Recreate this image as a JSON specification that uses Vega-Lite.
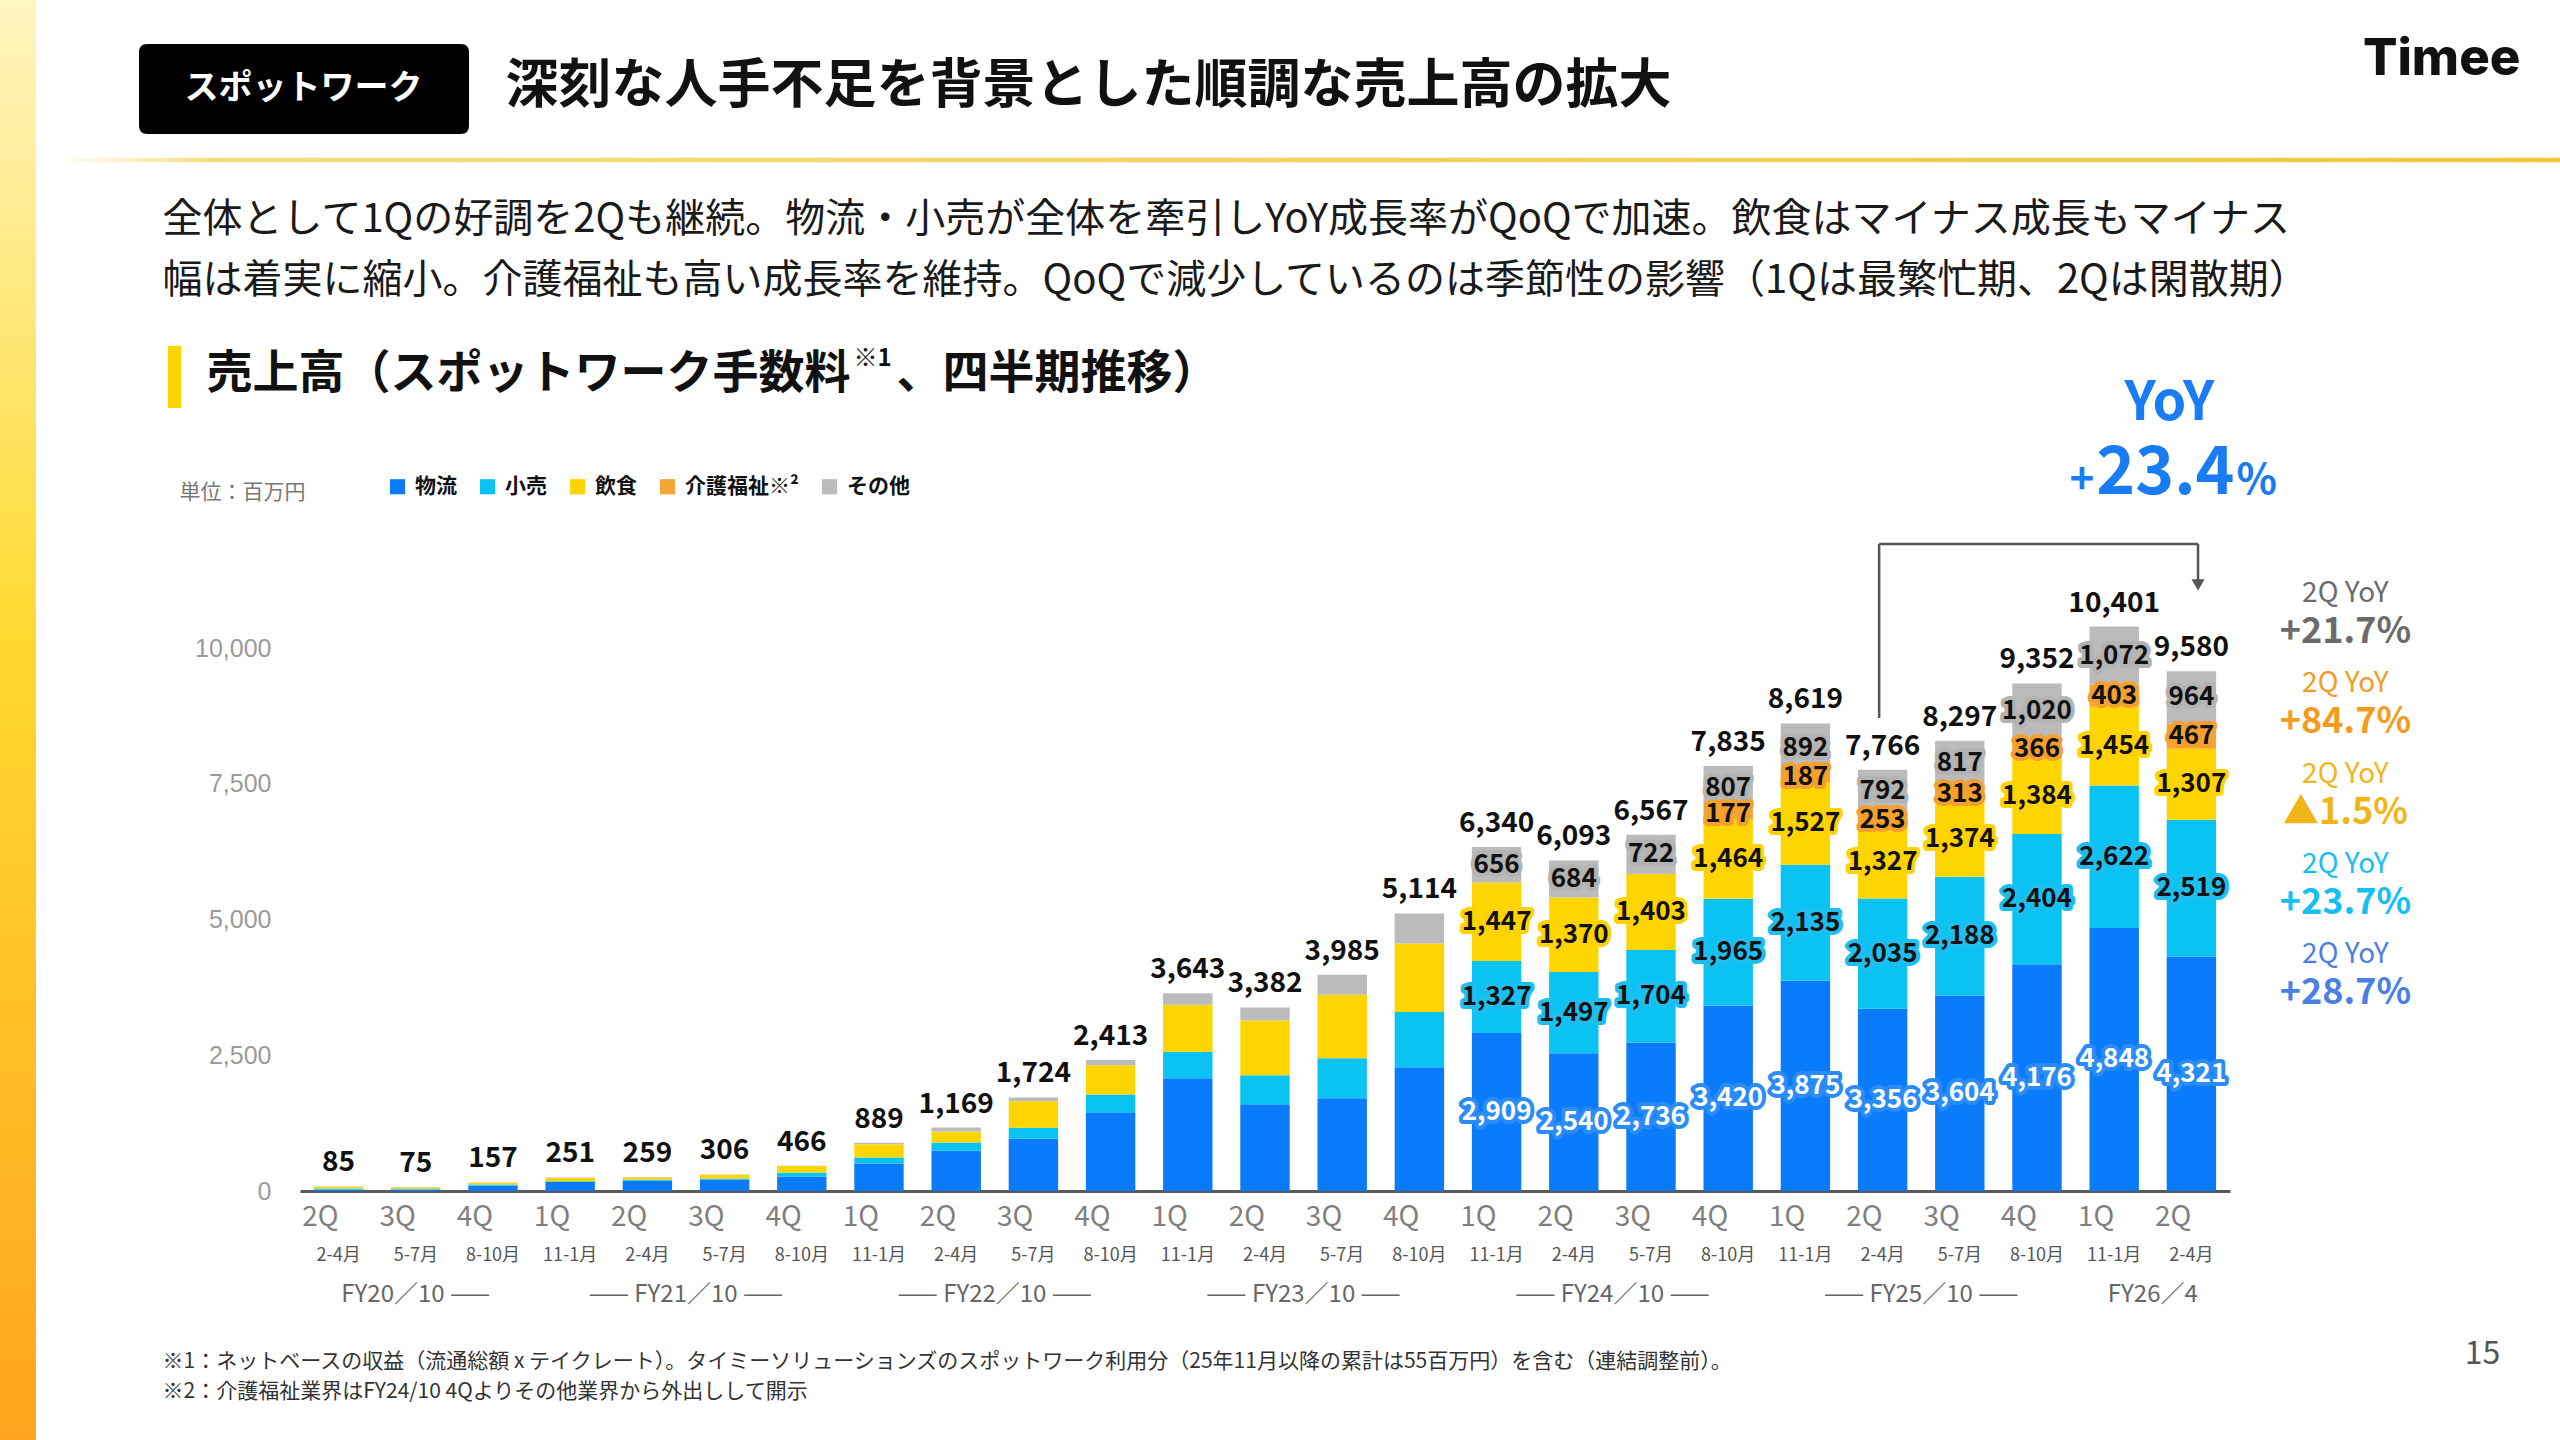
{
  "$schema": "https://vega.github.io/schema/vega-lite/v6.json",
  "width": 1930,
  "height": 597,
  "autosize": {"type": "none"},
  "padding": {"left": 300, "top": 594, "right": 330, "bottom": 249},
  "background": "white",
  "config": {"view": {"stroke": null}, "font": "Noto Sans CJK JP"},
  "datasets": {
    "sales": [
      {"q": "2Q FY20", "m": "2-4月", "物流": 25, "小売": 20, "飲食": 35, "介護福祉": 0, "その他": 5, "total": 85},
      {"q": "3Q FY20", "m": "5-7月", "物流": 25, "小売": 15, "飲食": 30, "介護福祉": 0, "その他": 5, "total": 75},
      {"q": "4Q FY20", "m": "8-10月", "物流": 95, "小売": 25, "飲食": 32, "介護福祉": 0, "その他": 5, "total": 157},
      {"q": "1Q FY21", "m": "11-1月", "物流": 165, "小売": 15, "飲食": 65, "介護福祉": 0, "その他": 6, "total": 251},
      {"q": "2Q FY21", "m": "2-4月", "物流": 190, "小売": 15, "飲食": 48, "介護福祉": 0, "その他": 6, "total": 259},
      {"q": "3Q FY21", "m": "5-7月", "物流": 205, "小売": 25, "飲食": 70, "介護福祉": 0, "その他": 6, "total": 306},
      {"q": "4Q FY21", "m": "8-10月", "物流": 265, "小売": 75, "飲食": 120, "介護福祉": 0, "その他": 6, "total": 466},
      {"q": "1Q FY22", "m": "11-1月", "物流": 505, "小売": 110, "飲食": 245, "介護福祉": 0, "その他": 29, "total": 889},
      {"q": "2Q FY22", "m": "2-4月", "物流": 745, "小売": 150, "飲食": 200, "介護福祉": 0, "その他": 74, "total": 1169},
      {"q": "3Q FY22", "m": "5-7月", "物流": 965, "小売": 200, "飲食": 490, "介護福祉": 0, "その他": 69, "total": 1724},
      {"q": "4Q FY22", "m": "8-10月", "物流": 1450, "小売": 328, "飲食": 540, "介護福祉": 0, "その他": 95, "total": 2413},
      {"q": "1Q FY23", "m": "11-1月", "物流": 2076, "小売": 492, "飲食": 862, "介護福祉": 0, "その他": 213, "total": 3643},
      {"q": "2Q FY23", "m": "2-4月", "物流": 1600, "小売": 533, "飲食": 1009, "介護福祉": 0, "その他": 240, "total": 3382},
      {"q": "3Q FY23", "m": "5-7月", "物流": 1707, "小売": 738, "飲食": 1173, "介護福祉": 0, "その他": 367, "total": 3985},
      {"q": "4Q FY23", "m": "8-10月", "物流": 2281, "小売": 1017, "飲食": 1264, "介護福祉": 0, "その他": 552, "total": 5114},
      {"q": "1Q FY24", "m": "11-1月", "物流": 2909, "小売": 1327, "飲食": 1447, "介護福祉": 0, "その他": 656, "total": 6340},
      {"q": "2Q FY24", "m": "2-4月", "物流": 2540, "小売": 1497, "飲食": 1370, "介護福祉": 0, "その他": 684, "total": 6093},
      {"q": "3Q FY24", "m": "5-7月", "物流": 2736, "小売": 1704, "飲食": 1403, "介護福祉": 0, "その他": 722, "total": 6567},
      {"q": "4Q FY24", "m": "8-10月", "物流": 3420, "小売": 1965, "飲食": 1464, "介護福祉": 177, "その他": 807, "total": 7835},
      {"q": "1Q FY25", "m": "11-1月", "物流": 3875, "小売": 2135, "飲食": 1527, "介護福祉": 187, "その他": 892, "total": 8619},
      {"q": "2Q FY25", "m": "2-4月", "物流": 3356, "小売": 2035, "飲食": 1327, "介護福祉": 253, "その他": 792, "total": 7766},
      {"q": "3Q FY25", "m": "5-7月", "物流": 3604, "小売": 2188, "飲食": 1374, "介護福祉": 313, "その他": 817, "total": 8297},
      {"q": "4Q FY25", "m": "8-10月", "物流": 4176, "小売": 2404, "飲食": 1384, "介護福祉": 366, "その他": 1020, "total": 9352},
      {"q": "1Q FY26", "m": "11-1月", "物流": 4848, "小売": 2622, "飲食": 1454, "介護福祉": 403, "その他": 1072, "total": 10401},
      {"q": "2Q FY26", "m": "2-4月", "物流": 4321, "小売": 2519, "飲食": 1307, "介護福祉": 467, "その他": 964, "total": 9580}
    ],
    "fy": [
      {"fy": "FY20／10 ——", "q": "3Q FY20", "w": "odd"},
      {"fy": "—— FY21／10 ——", "q": "2Q FY21", "w": "even"},
      {"fy": "—— FY22／10 ——", "q": "2Q FY22", "w": "even"},
      {"fy": "—— FY23／10 ——", "q": "2Q FY23", "w": "even"},
      {"fy": "—— FY24／10 ——", "q": "2Q FY24", "w": "even"},
      {"fy": "—— FY25／10 ——", "q": "2Q FY25", "w": "even"},
      {"fy": "FY26／4", "q": "1Q FY26", "w": "even"}
    ],
    "yoy": [
      {"seg": "その他", "yoy": "+21.7%"},
      {"seg": "介護福祉", "yoy": "+84.7%"},
      {"seg": "飲食", "yoy": "▲1.5%"},
      {"seg": "小売", "yoy": "+23.7%"},
      {"seg": "物流", "yoy": "+28.7%"}
    ],
    "notes": [
      {"k": "deco", "t": ""},
      {"k": "badge", "t": "スポットワーク"},
      {"k": "title", "t": "深刻な人手不足を背景とした順調な売上高の拡大"},
      {"k": "logo", "t": "Timee"},
      {"k": "p1", "t": "全体として1Qの好調を2Qも継続。物流・小売が全体を牽引しYoY成長率がQoQで加速。飲食はマイナス成長もマイナス"},
      {"k": "p2", "t": "幅は着実に縮小。介護福祉も高い成長率を維持。QoQで減少しているのは季節性の影響（1Qは最繁忙期、2Qは閑散期）"},
      {"k": "h1", "t": "売上高（スポットワーク手数料"},
      {"k": "h2", "t": "※1"},
      {"k": "h3", "t": "、四半期推移）"},
      {"k": "unit", "t": "単位：百万円"},
      {"k": "f1", "t": "※1：ネットベースの収益（流通総額 x テイクレート）。タイミーソリューションズのスポットワーク利用分（25年11月以降の累計は55百万円）を含む（連結調整前）。"},
      {"k": "f2", "t": "※2：介護福祉業界はFY24/10 4Qよりその他業界から外出しして開示"},
      {"k": "page", "t": "15"},
      {"k": "yoy", "t": "YoY"},
      {"k": "plus", "t": "+"},
      {"k": "big", "t": "23.4"},
      {"k": "pct", "t": "%"}
    ]
  },
  "layer": [
    {
      "layer": [
        {
          "data": {"name": "notes"},
          "transform": [{"filter": "datum.k == 'deco'"}],
          "mark": {"type": "point", "shape": "M-0.025,-1L0.025,-1L0.025,1L-0.025,1Z", "size": 2073600, "filled": true, "opacity": 1, "strokeWidth": 0,
            "fill": {"gradient": "linear", "x1": 0, "y1": 0, "x2": 0, "y2": 1, "stops": [{"offset": 0, "color": "#FFF5C0"}, {"offset": 0.45, "color": "#FFD92E"}, {"offset": 1, "color": "#FFA41E"}]}},
          "encoding": {
            "x": {"datum": "2Q FY20", "type": "nominal", "bandPosition": -5.989},
            "y": {"datum": 8678, "type": "quantitative"}
          }
        },
        {
          "data": {"name": "notes"},
          "transform": [{"filter": "datum.k == 'deco'"}],
          "mark": {"type": "point", "shape": "M-1,-0.0018L1,-0.0018L1,0.0018L-1,0.0018Z", "size": 6250000, "filled": true, "opacity": 1, "strokeWidth": 0,
            "fill": {"gradient": "linear", "x1": 0, "y1": 0, "x2": 1, "y2": 0, "stops": [{"offset": 0, "color": "#FFFFFF"}, {"offset": 0.06, "color": "#F5DD80"}, {"offset": 1, "color": "#EEC83C"}]}},
          "encoding": {
            "x": {"datum": "2Q FY20", "type": "nominal", "bandPosition": 20.16},
            "y": {"datum": 18997, "type": "quantitative"}
          }
        },
        {
          "data": {"name": "notes"},
          "transform": [{"filter": "datum.k == 'deco'"}],
          "mark": {"type": "point", "shape": "M-0.95,-0.2727L0.95,-0.2727Q1,-0.2727 1,-0.2227L1,0.2227Q1,0.2727 0.95,0.2727L-0.95,0.2727Q-1,0.2727 -1,0.2227L-1,-0.2227Q-1,-0.2727 -0.95,-0.2727Z", "size": 108900, "filled": true, "opacity": 1, "strokeWidth": 0, "fill": "#000000"},
          "encoding": {
            "x": {"datum": "2Q FY20", "type": "nominal", "bandPosition": -0.2},
            "y": {"datum": 20305, "type": "quantitative"}
          }
        },
        {
          "data": {"name": "notes"},
          "transform": [{"filter": "datum.k == 'deco'"}],
          "mark": {"type": "rule", "strokeWidth": 13, "color": "#FFD500"},
          "encoding": {
            "x": {"datum": "2Q FY20", "type": "nominal", "bandPosition": -2.821},
            "y": {"datum": 15570, "type": "quantitative"},
            "y2": {"datum": 14427}
          }
        },
        {
          "data": {"name": "sales"},
          "transform": [
            {"fold": ["物流", "小売", "飲食", "介護福祉", "その他"], "as": ["seg", "v"]},
            {"stack": "v", "groupby": ["q"], "as": ["v0", "v1"]}
          ],
          "mark": {"type": "bar"},
          "encoding": {
            "x": {
              "field": "q", "type": "nominal", "sort": null,
              "scale": {
                "domain": ["2Q FY20", "3Q FY20", "4Q FY20", "1Q FY21", "2Q FY21", "3Q FY21", "4Q FY21", "1Q FY22", "2Q FY22", "3Q FY22", "4Q FY22", "1Q FY23", "2Q FY23", "3Q FY23", "4Q FY23", "1Q FY24", "2Q FY24", "3Q FY24", "4Q FY24", "1Q FY25", "2Q FY25", "3Q FY25", "4Q FY25", "1Q FY26", "2Q FY26"],
                "paddingInner": 0.36, "paddingOuter": 0.18
              },
              "axis": {
                "title": null, "labelAngle": 0, "labelExpr": "split(datum.label, ' ')[0]",
                "labelFontSize": 28, "labelColor": "#7F7F7F", "labelFont": "Noto Sans CJK JP",
                "labelPadding": 26, "labelBaseline": "middle", "ticks": false, "domain": true, "domainColor": "#595959", "domainWidth": 3, "grid": false
              }
            },
            "y": {
              "field": "v1", "type": "quantitative",
              "scale": {"domain": [0, 11000], "nice": false, "zero": true},
              "axis": {
                "title": null, "values": [0, 2500, 5000, 7500, 10000], "labelExpr": "format(datum.value, ',')",
                "labelFontSize": 25, "labelColor": "#9A9A9A", "labelFont": "Liberation Sans",
                "labelPadding": 29, "ticks": false, "domain": false, "grid": false
              }
            },
            "y2": {"field": "v0"},
            "color": {
              "field": "seg", "type": "nominal",
              "scale": {"domain": ["物流", "小売", "飲食", "介護福祉", "その他"], "range": ["#0A7BFA", "#0BC3F3", "#FFD500", "#F6A436", "#BBBBBB"]},
              "legend": {
                "orient": "none", "legendX": 87, "legendY": -118, "direction": "horizontal", "columns": 5,
                "title": null, "symbolType": "square", "symbolSize": 230, "symbolStrokeWidth": 0,
                "labelFontSize": 21, "labelFont": "Noto Sans CJK JP", "labelFontWeight": "bold", "labelColor": "#111111",
                "columnPadding": 20, "labelOffset": 7,
                "labelExpr": "datum.label == '介護福祉' ? '介護福祉※²' : datum.label"
              }
            }
          }
        },
        {
          "data": {"name": "sales"},
          "transform": [
            {"fold": ["物流", "小売", "飲食", "介護福祉", "その他"], "as": ["seg", "v"]},
            {"stack": "v", "groupby": ["q"], "as": ["v0", "v1"]},
            {"filter": {"field": "q", "oneOf": ["1Q FY24", "2Q FY24", "3Q FY24", "4Q FY24", "1Q FY25", "2Q FY25", "3Q FY25", "4Q FY25", "1Q FY26", "2Q FY26"]}},
            {"filter": "datum.v > 0"},
            {"calculate": "(datum.v0 + datum.v1) / 2", "as": "mid"}
          ],
          "mark": {"type": "text", "fontSize": 26, "fontWeight": "bold", "strokeWidth": 8, "strokeJoin": "round", "baseline": "middle"},
          "encoding": {
            "x": {"field": "q", "type": "nominal"},
            "y": {"field": "mid", "type": "quantitative"},
            "text": {"field": "v", "type": "quantitative", "format": ","},
            "color": {"field": "seg", "type": "nominal"},
            "stroke": {"field": "seg", "type": "nominal", "scale": {"domain": ["物流", "小売", "飲食", "介護福祉", "その他"], "range": ["#2A8CF8", "#1EBFEF", "#FFD200", "#F5A02E", "#B3B3B3"]}, "legend": null}
          }
        },
        {
          "data": {"name": "sales"},
          "transform": [
            {"fold": ["物流", "小売", "飲食", "介護福祉", "その他"], "as": ["seg", "v"]},
            {"stack": "v", "groupby": ["q"], "as": ["v0", "v1"]},
            {"filter": {"field": "q", "oneOf": ["1Q FY24", "2Q FY24", "3Q FY24", "4Q FY24", "1Q FY25", "2Q FY25", "3Q FY25", "4Q FY25", "1Q FY26", "2Q FY26"]}},
            {"filter": "datum.v > 0"},
            {"calculate": "(datum.v0 + datum.v1) / 2", "as": "mid"}
          ],
          "mark": {"type": "text", "fontSize": 26, "fontWeight": "bold", "baseline": "middle"},
          "encoding": {
            "x": {"field": "q", "type": "nominal"},
            "y": {"field": "mid", "type": "quantitative"},
            "text": {"field": "v", "type": "quantitative", "format": ","},
            "fill": {"field": "seg", "type": "nominal", "scale": {"domain": ["物流", "小売", "飲食", "介護福祉", "その他"], "range": ["#FFFFFF", "#111111", "#111111", "#111111", "#111111"]}, "legend": null}
          }
        },
        {
          "data": {"name": "sales"},
          "mark": {"type": "text", "fontSize": 28, "fontWeight": "bold", "baseline": "middle", "dy": -23, "color": "#111111"},
          "encoding": {
            "x": {"field": "q", "type": "nominal"},
            "y": {"field": "total", "type": "quantitative"},
            "text": {"field": "total", "type": "quantitative", "format": ","}
          }
        },
        {
          "data": {"name": "sales"},
          "mark": {"type": "text", "fontSize": 18, "baseline": "middle", "color": "#555555"},
          "encoding": {
            "x": {"field": "q", "type": "nominal"},
            "y": {"datum": -1198, "type": "quantitative"},
            "text": {"field": "m"}
          }
        },
        {
          "data": {"name": "fy"},
          "transform": [{"filter": "datum.w == 'odd'"}],
          "mark": {"type": "text", "fontSize": 24, "baseline": "middle", "color": "#666666"},
          "encoding": {
            "x": {"field": "q", "type": "nominal", "bandPosition": 0.5},
            "y": {"datum": -1916, "type": "quantitative"},
            "text": {"field": "fy"}
          }
        },
        {
          "data": {"name": "fy"},
          "transform": [{"filter": "datum.w == 'even'"}],
          "mark": {"type": "text", "fontSize": 24, "baseline": "middle", "color": "#666666"},
          "encoding": {
            "x": {"field": "q", "type": "nominal", "bandPosition": 1.281},
            "y": {"datum": -1916, "type": "quantitative"},
            "text": {"field": "fy"}
          }
        },
        {
          "data": {"name": "notes"},
          "transform": [{"filter": "datum.k == 'deco'"}],
          "mark": {"type": "rule", "strokeWidth": 2.5, "color": "#555555"},
          "encoding": {
            "x": {"datum": "2Q FY25", "type": "nominal", "bandPosition": 0.43},
            "y": {"datum": 8715, "type": "quantitative"},
            "y2": {"datum": 11921}
          }
        },
        {
          "data": {"name": "notes"},
          "transform": [{"filter": "datum.k == 'deco'"}],
          "mark": {"type": "rule", "strokeWidth": 2.5, "color": "#555555"},
          "encoding": {
            "x": {"datum": "2Q FY25", "type": "nominal", "bandPosition": 0.43},
            "x2": {"datum": "2Q FY26", "bandPosition": 0.634},
            "y": {"datum": 11921, "type": "quantitative"}
          }
        },
        {
          "data": {"name": "notes"},
          "transform": [{"filter": "datum.k == 'deco'"}],
          "mark": {"type": "rule", "strokeWidth": 2.5, "color": "#555555"},
          "encoding": {
            "x": {"datum": "2Q FY26", "type": "nominal", "bandPosition": 0.634},
            "y": {"datum": 11921, "type": "quantitative"},
            "y2": {"datum": 11240}
          }
        },
        {
          "data": {"name": "notes"},
          "transform": [{"filter": "datum.k == 'deco'"}],
          "mark": {"type": "point", "shape": "triangle-down", "size": 170, "filled": true, "opacity": 1, "color": "#555555"},
          "encoding": {
            "x": {"datum": "2Q FY26", "type": "nominal", "bandPosition": 0.634},
            "y": {"datum": 11170, "type": "quantitative"}
          }
        },
        {
          "data": {"name": "notes"},
          "transform": [{"filter": "datum.k == 'badge'"}],
          "mark": {"type": "text", "fontSize": 34, "fontWeight": "bold", "color": "#FFFFFF", "align": "center", "baseline": "middle", "dx": -35},
          "encoding": {"x": {"datum": "2Q FY20", "type": "nominal"}, "y": {"datum": 20305, "type": "quantitative"}, "text": {"field": "t"}}
        },
        {
          "data": {"name": "notes"},
          "transform": [{"filter": "datum.k == 'title'"}],
          "mark": {"type": "text", "fontSize": 53, "fontWeight": "bold", "color": "#111111", "align": "left", "baseline": "middle", "dx": 167},
          "encoding": {"x": {"datum": "2Q FY20", "type": "nominal"}, "y": {"datum": 20342, "type": "quantitative"}, "text": {"field": "t"}}
        },
        {
          "data": {"name": "notes"},
          "transform": [{"filter": "datum.k == 'logo'"}],
          "mark": {"type": "text", "font": "Inter", "fontSize": 51, "fontWeight": 800, "color": "#111111", "align": "right", "baseline": "middle", "dx": 329},
          "encoding": {"x": {"datum": "2Q FY26", "type": "nominal"}, "y": {"datum": 20839, "type": "quantitative"}, "text": {"field": "t"}}
        },
        {
          "data": {"name": "notes"},
          "transform": [{"filter": "datum.k == 'p1'"}],
          "mark": {"type": "text", "fontSize": 40, "color": "#1A1A1A", "align": "left", "baseline": "middle", "dx": -176},
          "encoding": {"x": {"datum": "2Q FY20", "type": "nominal"}, "y": {"datum": 17891, "type": "quantitative"}, "text": {"field": "t"}}
        },
        {
          "data": {"name": "notes"},
          "transform": [{"filter": "datum.k == 'p2'"}],
          "mark": {"type": "text", "fontSize": 40, "color": "#1A1A1A", "align": "left", "baseline": "middle", "dx": -176},
          "encoding": {"x": {"datum": "2Q FY20", "type": "nominal"}, "y": {"datum": 16767, "type": "quantitative"}, "text": {"field": "t"}}
        },
        {
          "data": {"name": "notes"},
          "transform": [{"filter": "datum.k == 'h1'"}],
          "mark": {"type": "text", "fontSize": 46, "fontWeight": "bold", "color": "#111111", "align": "left", "baseline": "middle", "dx": -132},
          "encoding": {"x": {"datum": "2Q FY20", "type": "nominal"}, "y": {"datum": 15054, "type": "quantitative"}, "text": {"field": "t"}}
        },
        {
          "data": {"name": "notes"},
          "transform": [{"filter": "datum.k == 'h2'"}],
          "mark": {"type": "text", "fontSize": 24, "fontWeight": "bold", "color": "#111111", "align": "left", "baseline": "middle", "dx": 515},
          "encoding": {"x": {"datum": "2Q FY20", "type": "nominal"}, "y": {"datum": 15330, "type": "quantitative"}, "text": {"field": "t"}}
        },
        {
          "data": {"name": "notes"},
          "transform": [{"filter": "datum.k == 'h3'"}],
          "mark": {"type": "text", "fontSize": 46, "fontWeight": "bold", "color": "#111111", "align": "left", "baseline": "middle", "dx": 558},
          "encoding": {"x": {"datum": "2Q FY20", "type": "nominal"}, "y": {"datum": 15054, "type": "quantitative"}, "text": {"field": "t"}}
        },
        {
          "data": {"name": "notes"},
          "transform": [{"filter": "datum.k == 'unit'"}],
          "mark": {"type": "text", "fontSize": 21, "color": "#777777", "align": "left", "baseline": "middle", "dx": -159},
          "encoding": {"x": {"datum": "2Q FY20", "type": "nominal"}, "y": {"datum": 12861, "type": "quantitative"}, "text": {"field": "t"}}
        },
        {
          "data": {"name": "notes"},
          "transform": [{"filter": "datum.k == 'f1'"}],
          "mark": {"type": "text", "fontSize": 21, "color": "#333333", "align": "left", "baseline": "middle", "dx": -176},
          "encoding": {"x": {"datum": "2Q FY20", "type": "nominal"}, "y": {"datum": -3151, "type": "quantitative"}, "text": {"field": "t"}}
        },
        {
          "data": {"name": "notes"},
          "transform": [{"filter": "datum.k == 'f2'"}],
          "mark": {"type": "text", "fontSize": 21, "color": "#333333", "align": "left", "baseline": "middle", "dx": -176},
          "encoding": {"x": {"datum": "2Q FY20", "type": "nominal"}, "y": {"datum": -3704, "type": "quantitative"}, "text": {"field": "t"}}
        },
        {
          "data": {"name": "notes"},
          "transform": [{"filter": "datum.k == 'page'"}],
          "mark": {"type": "text", "fontSize": 32, "color": "#555555", "align": "center", "baseline": "middle", "dx": 291},
          "encoding": {"x": {"datum": "2Q FY26", "type": "nominal"}, "y": {"datum": -3003, "type": "quantitative"}, "text": {"field": "t"}}
        },
        {
          "data": {"name": "notes"},
          "transform": [{"filter": "datum.k == 'yoy'"}],
          "mark": {"type": "text", "fontSize": 54, "fontWeight": "bold", "color": "#1A7CF5", "align": "center", "baseline": "alphabetic", "dx": -22},
          "encoding": {"x": {"datum": "2Q FY26", "type": "nominal"}, "y": {"datum": 14200, "type": "quantitative"}, "text": {"field": "t"}}
        },
        {
          "data": {"name": "notes"},
          "transform": [{"filter": "datum.k == 'plus'"}],
          "mark": {"type": "text", "fontSize": 42, "fontWeight": "bold", "color": "#1A7CF5", "align": "right", "baseline": "alphabetic", "dx": -97},
          "encoding": {"x": {"datum": "2Q FY26", "type": "nominal"}, "y": {"datum": 12843, "type": "quantitative"}, "text": {"field": "t"}}
        },
        {
          "data": {"name": "notes"},
          "transform": [{"filter": "datum.k == 'big'"}],
          "mark": {"type": "text", "fontSize": 66, "fontWeight": "bold", "color": "#1A7CF5", "align": "center", "baseline": "alphabetic", "dx": -26},
          "encoding": {"x": {"datum": "2Q FY26", "type": "nominal"}, "y": {"datum": 12843, "type": "quantitative"}, "text": {"field": "t"}}
        },
        {
          "data": {"name": "notes"},
          "transform": [{"filter": "datum.k == 'pct'"}],
          "mark": {"type": "text", "fontSize": 42, "fontWeight": "bold", "color": "#1A7CF5", "align": "left", "baseline": "alphabetic", "dx": 45},
          "encoding": {"x": {"datum": "2Q FY26", "type": "nominal"}, "y": {"datum": 12843, "type": "quantitative"}, "text": {"field": "t"}}
        }
      ]
    },
    {
      "data": {"name": "yoy"},
      "layer": [
        {
          "mark": {"type": "text", "fontSize": 28, "align": "center", "baseline": "middle", "dx": 154, "dy": -38},
          "encoding": {
            "x": {"datum": "2Q FY26", "type": "nominal"},
            "y": {"field": "seg", "type": "nominal", "scale": {"type": "point", "domain": ["その他", "介護福祉", "飲食", "小売", "物流"], "range": [38, 399], "padding": 0}, "axis": null},
            "text": {"value": "2Q YoY"},
            "color": {"field": "seg", "type": "nominal", "scale": {"domain": ["その他", "介護福祉", "飲食", "小売", "物流"], "range": ["#6B6B6B", "#F39C1F", "#F2B517", "#14C0F2", "#4A7FE6"]}, "legend": null}
          }
        },
        {
          "mark": {"type": "text", "fontSize": 36, "fontWeight": "bold", "align": "center", "baseline": "middle", "dx": 154},
          "encoding": {
            "x": {"datum": "2Q FY26", "type": "nominal"},
            "y": {"field": "seg", "type": "nominal", "scale": {"type": "point", "domain": ["その他", "介護福祉", "飲食", "小売", "物流"], "range": [38, 399], "padding": 0}, "axis": null},
            "text": {"field": "yoy"},
            "color": {"field": "seg", "type": "nominal", "scale": {"domain": ["その他", "介護福祉", "飲食", "小売", "物流"], "range": ["#6B6B6B", "#F39C1F", "#F2B517", "#14C0F2", "#4A7FE6"]}, "legend": null}
          }
        }
      ]
    }
  ],
  "resolve": {"scale": {"y": "independent", "color": "independent"}, "axis": {"y": "independent"}}
}
